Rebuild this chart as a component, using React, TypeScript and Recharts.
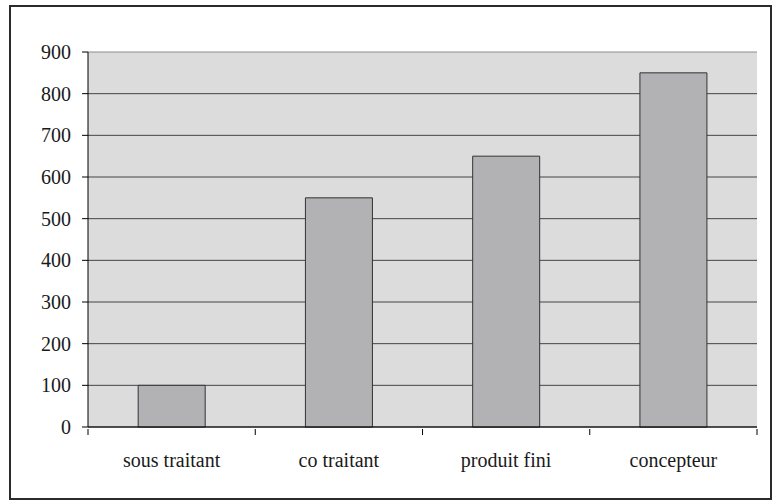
import React from "react";
import { Bar, BarChart, CartesianGrid, XAxis, YAxis } from "recharts";

const categories = ["sous traitant", "co traitant", "produit fini", "concepteur"];
const values = [100, 550, 650, 850];
const yTicks = [0, 100, 200, 300, 400, 500, 600, 700, 800, 900];

const data = categories.map((name, i) => ({ name, value: values[i] }));

const font = "'Liberation Serif', 'Times New Roman', serif";

// category label + tick marks on the category edges (Excel style)
const CategoryTick = (props: any) => {
    const { x, y, payload, index, width, visibleTicksCount } = props;
    const band = width / visibleTicksCount;
    const left = x - band / 2;
    const right = x + band / 2;
    return (
        <g>
            <line x1={left} y1={y} x2={left} y2={y + 6} stroke="#000" />
            {index === visibleTicksCount - 1 && (
                <line x1={right} y1={y} x2={right} y2={y + 6} stroke="#000" />
            )}
            <text
                x={x}
                y={y + 24}
                dy="0.71em"
                textAnchor="middle"
                fontFamily={font}
                fontSize={20}
                fill="#1a1a1a"
            >
                {payload.value}
            </text>
        </g>
    );
};

// the top edge of the plot area is lighter than the inner grid lines
const GridLine = (props: any) => {
    const { x1, y1, x2, y2, index } = props;
    const isTop = index === yTicks.length - 1;
    return <line x1={x1} y1={y1} x2={x2} y2={y2} stroke={isTop ? "#8c8c8c" : "#444"} strokeWidth={1} />;
};

const App: React.FC = () => {
    return (
        <div style={{ position: "absolute", left: 0, top: 0, width: 773, height: 501, background: "#fff" }}>
            <div
                style={{
                    position: "absolute",
                    left: 9,
                    top: 5,
                    width: 763,
                    height: 495,
                    boxSizing: "border-box",
                    border: "2px solid #2b2b2b",
                }}
            />
            <div style={{ position: "absolute", left: 0, top: 0 }}>
                <BarChart
                    width={773}
                    height={501}
                    data={data}
                    margin={{ top: 52, right: 16, left: 8, bottom: 34 }}
                    barCategoryGap="30%"
                >
                    <CartesianGrid vertical={false} horizontal={GridLine} fill="#dcdcdc" />
                    <XAxis
                        dataKey="name"
                        height={40}
                        axisLine={{ stroke: "#000" }}
                        tickLine={false}
                        tickSize={0}
                        tick={<CategoryTick />}
                        interval={0}
                    />
                    <YAxis
                        width={80}
                        domain={[0, 900]}
                        ticks={yTicks}
                        interval={0}
                        axisLine={{ stroke: "#000" }}
                        tickLine={{ stroke: "#000" }}
                        tickSize={6}
                        tickMargin={11}
                        tick={{ fontFamily: font, fontSize: 20, fill: "#1a1a1a" }}
                    />
                    <YAxis
                        yAxisId="right"
                        orientation="right"
                        width={0}
                        domain={[0, 900]}
                        tick={false}
                        tickLine={false}
                        axisLine={{ stroke: "#999" }}
                    />
                    <Bar dataKey="value" fill="#b2b2b4" stroke="#333" strokeWidth={1} isAnimationActive={false} />
                </BarChart>
            </div>
        </div>
    );
};

export default App;
